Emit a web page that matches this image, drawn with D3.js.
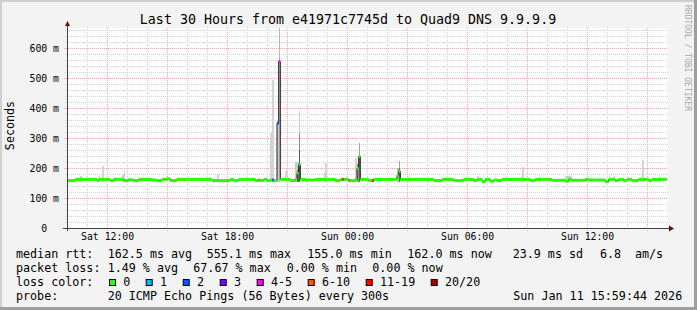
<!DOCTYPE html>
<html lang="en">
<head>
<meta charset="UTF-8">
<title>smokeping</title>
<script src="https://d3js.org/d3.v7.min.js"></script>
<style>
body{margin:0;background:#f3f3f3;}
svg text{font-family:"DejaVu Sans Mono",monospace;}
</style>
</head>
<body>
<script>
// times are hours after Sat 00:00 (UTC)
var titleText = 'Last 30 Hours from e41971c7745d to Quad9 DNS 9.9.9.9';
var startH = 9.9956, endH = 39.9956, stepH = 5 / 60;
var yTicks = [0, 100, 200, 300, 400, 500, 600];

// baseline median changes [hour, ms]
var medianLevels = [
  [10.0,158],[10.4,162],[11.48,158],[11.55,162],[12.15,158],[12.3,162],[12.82,158],[13.07,162],
  [13.15,160],[13.32,158],[13.55,162],[14.23,160],[14.48,158],[14.73,162],[14.98,164],[15.15,158],
  [15.48,162],[17.23,158],[18.15,162],[18.3,158],[18.55,162],[19.4,158],[19.55,160],[19.65,158],
  [19.82,162],[19.98,158],[20.15,160],[20.3,158],[20.65,162],[21.15,158],[21.4,162],[21.9,160],
  [22.4,162],[23.45,158],[23.7,162],[24.1,158],[24.4,162],[25.05,158],[25.3,162],[28.3,158],
  [28.73,162],[29.32,158],[29.82,162],[30.32,158],[30.48,162],[30.73,155],[30.9,162],[31.15,156],
  [31.32,160],[31.48,158],[31.73,162],[33.15,158],[33.4,162],[34.23,159],[34.9,156],[35.07,162],
  [35.23,159],[35.9,162],[36.07,160],[36.9,154],[37.07,162],[37.4,158],[37.57,162],[37.8,158],
  [37.98,162],[38.23,158],[38.57,162],[39.07,158],[39.23,162]
];
// median spikes [hour, ms, loss class]
var spikes = [
  [20.48,349,2],[20.57,555,4],[21.48,183,0],[21.57,212,0],
  [24.52,199,0],[24.6,238,0],[26.52,175,0],[26.6,189,0]
];
// loss on the baseline [hour, loss class]
var lossMarks = [[19.57,5],[20.22,2],[23.75,6],[24.05,5],[25.23,6]];
// smoke [hour, top ms, pings reaching it]
var smoke = [
  [10.65,173,1],[11.6,173,2],[11.72,207,1],[12.3,171,1],[12.8,191,1],[12.75,178,2],[13.65,168,1],
  [15.8,168,1],[17.3,170,1],[17.48,180,1],[20.17,318,1],[20.25,493,1],[20.48,360,2],[20.57,700,4],
  [20.95,191,1],[21.4,221,2],[21.48,221,2],[21.57,390,2],[21.57,317,8],[21.57,260,14],[21.48,195,12],
  [21.75,168,1],[22.8,188,1],[22.9,216,1],[24.45,233,1],[24.6,283,6],[24.6,245,12],[24.52,215,8],
  [26.52,200,4],[26.6,222,6],[26.6,200,12],[27.05,184,1],[27.98,166,1],[29.4,165,1],[29.5,165,1],
  [30.48,173,1],[32.73,204,1],[33.57,180,1],[34.9,172,1],[35.0,175,2],[35.1,176,2],[35.2,173,1],
  [37.07,180,1],[37.3,172,1],[38.73,227,1],[39.57,179,1]
];

var lossLabels = ['0','1','2','3','4-5','6-10','11-19','20/20'];
var lossColors = ['#26ff00','#00b8ff','#0059ff','#7e00ff','#ff00ff','#ff5500','#ff0000','#a10000'];
var rttStats = [162.5, 555.1, 155.0, 162.0];
var rttNames = ['avg','max','min','now'];
var rttSd = 23.9, rttAms = 6.8;
var lossStats = ['1.49','67.67','0.00','0.00'];
var probeText = '20 ICMP Echo Pings (56 Bytes) every 300s';
var dateText = 'Sun Jan 11 15:59:44 2026';

var W = 697, H = 310;
var padL = 67, padR = 667, padT = 28, padB = 228;
var t0 = Date.UTC(2026, 0, 10);
function at(h) { return new Date(t0 + h * 3600e3); }

var svg = d3.select('body').append('svg').attr('width', W).attr('height', H);

// frame
svg.append('rect').attr('width', W).attr('height', H).attr('fill', '#f3f3f3');
svg.append('path').attr('d', 'M0,0H697V310H0Z M2,2V310H697V2Z').attr('fill', '#cfcfcf').attr('fill-rule', 'evenodd');
svg.append('path').attr('d', 'M697,0V310H0V307H694V0Z').attr('fill', '#9e9e9e');

var x = d3.scaleUtc().domain([at(startH), at(endH)]).range([padL, padR]);
var y = d3.scaleLinear().domain([0, 666.67]).range([padB, padT]);

svg.append('rect').attr('x', padL).attr('y', padT).attr('width', padR + 1 - padL).attr('height', padB - padT).attr('fill', '#fff');

// grid
var hours = x.ticks(d3.utcHour.every(1));
var minorY = d3.range(20, 667, 20).filter(function (d) { return d % 100 !== 0; });
var grid = svg.append('g').attr('stroke-dasharray', '1,1').attr('shape-rendering', 'crispEdges');
grid.selectAll('.vmin').data(hours.filter(function (d) { return d.getUTCHours() % 3 !== 0; }))
  .enter().append('line').attr('stroke', '#cfcfcf')
  .attr('x1', function (d) { return Math.round(x(d)) + 0.5; }).attr('x2', function (d) { return Math.round(x(d)) + 0.5; })
  .attr('y1', padT).attr('y2', padB + 2);
grid.selectAll('.hmin').data(minorY).enter().append('line').attr('stroke', '#cfcfcf')
  .attr('y1', function (d) { return Math.round(y(d)) + 0.5; }).attr('y2', function (d) { return Math.round(y(d)) + 0.5; })
  .attr('x1', padL - 2).attr('x2', padR + 1);
grid.selectAll('.vmaj').data(hours.filter(function (d) { return d.getUTCHours() % 3 === 0; }))
  .enter().append('line').attr('stroke', '#ffa0a0')
  .attr('x1', function (d) { return Math.round(x(d)) + 0.5; }).attr('x2', function (d) { return Math.round(x(d)) + 0.5; })
  .attr('y1', padT).attr('y2', padB + 3);
grid.selectAll('.hmaj').data(yTicks.slice(1)).enter().append('line').attr('stroke', '#ffa0a0')
  .attr('y1', function (d) { return Math.round(y(d)) + 0.5; }).attr('y2', function (d) { return Math.round(y(d)) + 0.5; })
  .attr('x1', padL - 3).attr('x2', padR + 1);

// build steps
var n = Math.round((endH - startH) / stepH);
var steps = [];
for (var i = 0; i < n; i++) {
  var h = startH + i * stepH;
  var m = medianLevels[0][1];
  medianLevels.forEach(function (c) { if (c[0] <= h + stepH / 2) m = c[1]; });
  steps.push({ i: i, h: h, median: m, loss: 0 });
}
function idx(h) { return Math.max(0, Math.min(n - 1, Math.round((h - startH) / stepH))); }
lossMarks.forEach(function (d) { steps[idx(d[0])].loss = d[1]; });
spikes.forEach(function (d) { var s = steps[idx(d[0])]; s.median = d[1]; s.loss = d[2]; });

var sw = x(at(startH + stepH)) - x(at(startH));
var defs = svg.append('defs');
defs.append('clipPath').attr('id', 'clip').append('rect')
  .attr('x', padL).attr('y', padT).attr('width', padR - padL).attr('height', padB - padT);
var plot = svg.append('g').attr('clip-path', 'url(#clip)');

// smoke
var shade = d3.scaleLinear().domain([1, 20]).range(['#d4d4d4', '#1a1a1a']);
plot.selectAll('.smoke').data(smoke.slice().sort(function (a, b) { return a[2] - b[2]; }))
  .enter().append('rect')
  .attr('x', function (d) { return x(at(startH + idx(d[0]) * stepH)); })
  .attr('width', sw)
  .attr('y', function (d) { return y(d[1]); })
  .attr('height', function (d) { return y(155) - y(d[1]); })
  .attr('fill', function (d) { return shade(d[2]); })
  .attr('shape-rendering', 'crispEdges');

// median line
var pts = steps.map(function (s) { return [x(at(s.h)), y(s.median)]; });
pts.push([x(at(endH)), y(steps[n - 1].median)]);
plot.append('path').attr('d', d3.line().curve(d3.curveStepAfter)(pts))
  .attr('fill', 'none').attr('stroke', '#202020').attr('stroke-width', 1);

// loss colored band, runs merged
var runs = [];
steps.forEach(function (s) {
  var r = runs[runs.length - 1];
  if (r && r.median === s.median && r.loss === s.loss) r.end = s.i + 1;
  else runs.push({ start: s.i, end: s.i + 1, median: s.median, loss: s.loss });
});
plot.selectAll('.band').data(runs).enter().append('rect')
  .attr('x', function (d) { return x(at(startH + d.start * stepH)); })
  .attr('width', function (d) { return x(at(startH + d.end * stepH)) - x(at(startH + d.start * stepH)); })
  .attr('y', function (d) { return y(d.median) - 1.5; })
  .attr('height', 3)
  .attr('fill', function (d) { return lossColors[d.loss]; });

// axes
svg.append('line').attr('x1', padL - 4).attr('x2', padR + 3).attr('y1', padB + 0.5).attr('y2', padB + 0.5)
  .attr('stroke', '#404040');
svg.append('line').attr('x1', padL + 0.5).attr('x2', padL + 0.5).attr('y1', padB + 3).attr('y2', 24)
  .attr('stroke', '#404040');
svg.append('path').attr('d', 'M' + (padL - 2) + ',26L' + (padL + 3) + ',26L' + (padL + 0.5) + ',21Z').attr('fill', '#7f0000');
svg.append('path').attr('d', 'M669,225.5L669,231.5L674,228.5Z').attr('fill', '#7f0000');

var xa = svg.append('g').attr('transform', 'translate(0,' + padB + ')')
  .call(d3.axisBottom(x).ticks(d3.utcHour.every(6)).tickSize(0).tickPadding(5).tickFormat(d3.utcFormat('%a %H:%M')));
xa.select('.domain').remove();
xa.selectAll('text').attr('font-family', '"DejaVu Sans Mono", monospace').attr('font-size', 9.8).attr('fill', '#000');

var ya = svg.append('g').attr('transform', 'translate(' + padL + ',0)')
  .call(d3.axisLeft(y).tickValues(yTicks).tickSize(0).tickPadding(8)
    .tickFormat(function (d) { return d ? d + ' m' : '0  '; }));
ya.select('.domain').remove();
ya.selectAll('text').attr('font-family', '"DejaVu Sans Mono", monospace').attr('font-size', 9.8)
  .attr('fill', '#000').style('white-space', 'pre');

// titles
svg.append('text').attr('x', 348).attr('y', 24).attr('text-anchor', 'middle').attr('font-size', 13.3).text(titleText);
svg.append('text').attr('transform', 'translate(14,125.5) rotate(-90)').attr('text-anchor', 'middle')
  .attr('font-size', 11.7).text('Seconds');
svg.append('text').attr('transform', 'translate(685,5) rotate(90)').attr('font-size', 8)
  .attr('fill', '#aaaaaa').text('RRDTOOL / TOBI OETIKER');

// legend
var lg = svg.append('g').attr('font-size', 11.7).attr('fill', '#000').style('white-space', 'pre');
function txt(xp, yp, s) { lg.append('text').attr('x', xp).attr('y', yp).text(s); }
var rttX = [107.7, 206.7, 307.3, 407.3];
txt(16, 258, 'median rtt:');
rttStats.forEach(function (v, k) { txt(rttX[k], 258, v.toFixed(1) + ' ms ' + rttNames[k]); });
txt(512.7, 258, rttSd.toFixed(1) + ' ms sd');
txt(600, 258, rttAms.toFixed(1));
txt(635, 258, 'am/s');

var lossX = [107.7, 193.3, 286.7, 372.3];
txt(16, 272, 'packet loss:');
lossStats.forEach(function (v, k) { txt(lossX[k], 272, v + ' % ' + rttNames[k]); });

var boxX = [109, 145.7, 182.7, 219.7, 256.7, 307.7, 365.7, 430.7];
txt(16, 286, 'loss color:');
lossLabels.forEach(function (l, k) {
  lg.append('rect').attr('x', boxX[k] + 0.5).attr('y', 279.5).attr('width', 6).attr('height', 6)
    .attr('fill', lossColors[k]).attr('stroke', '#000').attr('stroke-width', 1);
  txt(boxX[k] + 14.3, 286, l);
});

txt(16, 300, 'probe:');
txt(107.7, 300, probeText);
txt(513.3, 300, dateText);
</script>
</body>
</html>
